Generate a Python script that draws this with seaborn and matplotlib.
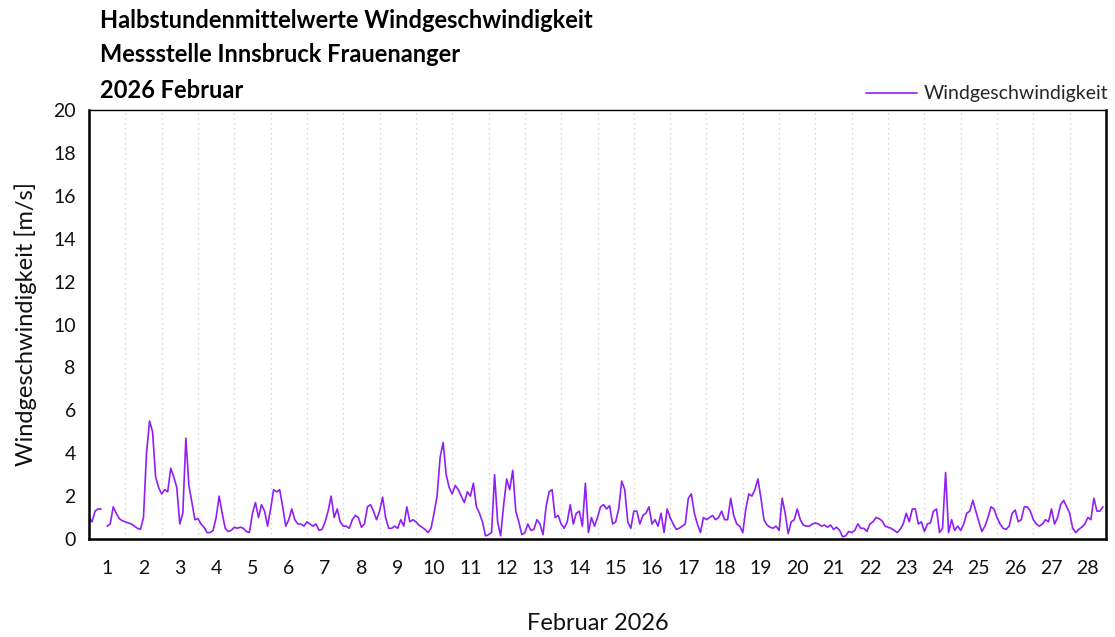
import numpy as np
import pandas as pd
import matplotlib
matplotlib.use('Agg')
import matplotlib.pyplot as plt
from matplotlib.lines import Line2D
import seaborn as sns

# values, every 2 hours (00, 02, ... 22 h) per day
day_01 = [1.0, 0.8, 1.3, 1.4, 1.4, np.nan, 0.6, 0.7, 1.5, 1.2, 0.95, 0.85]
day_02 = [0.8, 0.75, 0.7, 0.6, 0.5, 0.45, 1.0, 4.0, 5.5, 5.0, 2.9, 2.4]
day_03 = [2.1, 2.3, 2.2, 3.3, 2.9, 2.4, 0.7, 1.2, 4.7, 2.5, 1.7, 0.9]
day_04 = [0.95, 0.7, 0.55, 0.3, 0.3, 0.4, 1.0, 2.0, 1.2, 0.5, 0.35, 0.4]
day_05 = [0.55, 0.5, 0.55, 0.5, 0.35, 0.3, 1.2, 1.7, 1.0, 1.6, 1.3, 0.6]
day_06 = [1.4, 2.3, 2.2, 2.3, 1.5, 0.6, 0.9, 1.4, 0.9, 0.7, 0.7, 0.6]
day_07 = [0.8, 0.7, 0.6, 0.7, 0.4, 0.45, 0.8, 1.3, 2.0, 1.0, 1.4, 0.8]
day_08 = [0.6, 0.6, 0.5, 0.9, 1.1, 1.0, 0.55, 0.7, 1.5, 1.6, 1.3, 0.9]
day_09 = [1.3, 1.95, 1.0, 0.5, 0.5, 0.6, 0.5, 0.9, 0.6, 1.5, 0.8, 0.9]
day_10 = [0.8, 0.65, 0.55, 0.45, 0.3, 0.5, 1.2, 2.0, 3.8, 4.5, 3.0, 2.4]
day_11 = [2.1, 2.5, 2.3, 2.0, 1.7, 2.2, 2.0, 2.6, 1.5, 1.2, 0.8, 0.15]
day_12 = [0.2, 0.3, 3.0, 0.8, 0.15, 1.6, 2.8, 2.3, 3.2, 1.3, 0.8, 0.2]
day_13 = [0.3, 0.7, 0.4, 0.45, 0.9, 0.7, 0.2, 1.5, 2.2, 2.3, 1.0, 1.1]
day_14 = [0.7, 0.5, 0.8, 1.6, 0.7, 1.2, 1.3, 0.6, 2.6, 0.3, 1.0, 0.6]
day_15 = [1.0, 1.5, 1.6, 1.4, 1.55, 0.7, 0.8, 1.4, 2.7, 2.3, 0.8, 0.5]
day_16 = [1.3, 1.3, 0.7, 1.1, 1.2, 1.5, 0.7, 0.9, 0.6, 1.2, 0.3, 1.4]
day_17 = [1.0, 0.7, 0.45, 0.5, 0.6, 0.7, 1.9, 2.1, 1.2, 0.7, 0.3, 1.0]
day_18 = [0.9, 1.0, 1.1, 0.9, 1.0, 1.3, 0.9, 0.9, 1.9, 1.1, 0.7, 0.6]
day_19 = [0.3, 1.4, 2.1, 2.0, 2.3, 2.8, 1.9, 0.9, 0.65, 0.55, 0.5, 0.6]
day_20 = [0.4, 1.9, 1.2, 0.25, 0.8, 0.9, 1.4, 0.9, 0.65, 0.6, 0.6, 0.7]
day_21 = [0.75, 0.7, 0.6, 0.65, 0.55, 0.65, 0.45, 0.55, 0.4, 0.1, 0.15, 0.35]
day_22 = [0.3, 0.4, 0.7, 0.5, 0.5, 0.35, 0.7, 0.8, 1.0, 0.95, 0.85, 0.6]
day_23 = [0.55, 0.5, 0.4, 0.3, 0.45, 0.7, 1.2, 0.8, 1.4, 1.4, 0.7, 0.8]
day_24 = [0.35, 0.7, 0.75, 1.3, 1.4, 0.3, 0.5, 3.1, 0.3, 0.9, 0.4, 0.6]
day_25 = [0.4, 0.7, 1.2, 1.3, 1.8, 1.3, 0.8, 0.35, 0.6, 1.0, 1.5, 1.4]
day_26 = [1.0, 0.7, 0.5, 0.45, 0.6, 1.2, 1.35, 0.8, 0.9, 1.5, 1.5, 1.3]
day_27 = [0.9, 0.7, 0.6, 0.7, 0.9, 0.8, 1.4, 0.7, 1.0, 1.6, 1.8, 1.5]
day_28 = [1.2, 0.5, 0.3, 0.45, 0.55, 0.7, 1.0, 0.9, 1.9, 1.3, 1.3, 1.5]

days = [day_01, day_02, day_03, day_04, day_05, day_06, day_07,
        day_08, day_09, day_10, day_11, day_12, day_13, day_14,
        day_15, day_16, day_17, day_18, day_19, day_20, day_21,
        day_22, day_23, day_24, day_25, day_26, day_27, day_28]
hours = list(range(0, 24, 2))
day_labels = [str(d) for d in range(1, 29)]
series_name = 'Windgeschwindigkeit'
line_color = '#8F1FF5'

rows = []
for d, vals in enumerate(days):
    for h, v in zip(hours, vals):
        rows.append({'t': d + h / 24, 'v': v})
df = pd.DataFrame(rows)
# split the line where values are missing
df['seg'] = df['v'].isna().cumsum()
df = df.dropna()

sns.set_style('white')
plt.rcParams['font.family'] = ['Lato', 'DejaVu Sans']

fig = plt.figure(figsize=(11.15, 6.37), dpi=100)
ax = fig.add_axes([89 / 1115, 1 - 539 / 637, (1106 - 89) / 1115, (539 - 110) / 637])

sns.lineplot(data=df, x='t', y='v', units='seg', estimator=None,
             color=line_color, linewidth=1.2, legend=False, ax=ax)

ax.set_xlim(0, 28)
ax.set_ylim(0, 20)
ax.set_yticks(range(0, 21, 2))
ax.set_xticks(range(0, 29))
ax.set_xticklabels([])
ax.set_xticks(np.arange(0.5, 28, 1), minor=True)
ax.set_xticklabels(day_labels, minor=True)
ax.tick_params(axis='x', which='major', length=8, width=1.8, direction='out', color='black')
ax.tick_params(axis='x', which='minor', length=0, labelsize=14, pad=15, labelcolor='#111111')
ax.tick_params(axis='y', length=6, width=1.8, direction='out', color='black',
               labelsize=14, labelcolor='#111111')
ax.grid(axis='x', which='major', linestyle=(0, (1, 3)), color='#c8c8c8', linewidth=0.9)

for side in ['left', 'bottom', 'right']:
    ax.spines[side].set_linewidth(1.8)
    ax.spines[side].set_color('black')
ax.spines['top'].set_linewidth(1.0)
ax.spines['top'].set_color('black')

ax.set_xlabel('Februar 2026', fontsize=17, labelpad=26, color='#111111')
ax.set_ylabel('Windgeschwindigkeit [m/s]', fontsize=17, labelpad=12, color='#111111')

handle = Line2D([], [], color=line_color, linewidth=1.2)
ax.legend([handle], [series_name], loc='lower right', bbox_to_anchor=(1.012, 0.995),
          frameon=False, fontsize=14, handlelength=2.6, handletextpad=0.35,
          borderaxespad=0.1)

title_lines = ['Halbstundenmittelwerte Windgeschwindigkeit',
               'Messstelle Innsbruck Frauenanger',
               '2026 Februar']
for i, line in enumerate(title_lines):
    fig.text(100 / 1115, 1 - (20 + 35 * i) / 637, line, fontsize=17,
             fontweight='bold', va='center', ha='left', color='black')

fig.savefig('out.png', dpi=100)
